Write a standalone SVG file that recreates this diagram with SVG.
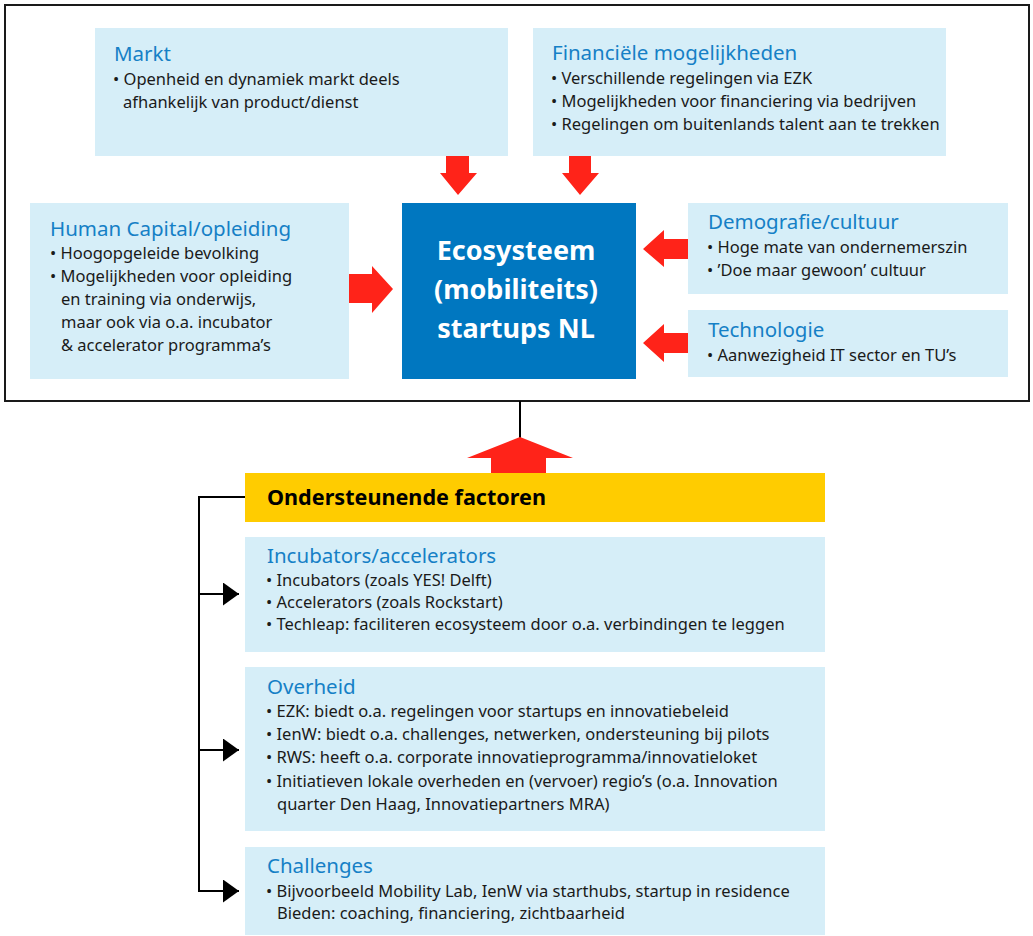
<svg xmlns="http://www.w3.org/2000/svg" width="1033" height="936" viewBox="0 0 1033 936">
  <style>
    .box { fill: #D6EEF8; }
    .core { fill: #0077C0; }
    .bar { fill: #FFCC00; }
    .title { font-family: "Noto Sans", "Open Sans", sans-serif; font-size: 20.5px; fill: #1580C6; }
    .body { font-family: "Noto Sans", "Open Sans", sans-serif; font-size: 16.5px; fill: #1A1A1A; }
    .core-text { font-family: "Noto Sans", "Open Sans", sans-serif; font-size: 27px; font-weight: bold; fill: #FFFFFF; text-anchor: middle; }
    .bar-text { font-family: "Noto Sans", "Open Sans", sans-serif; font-size: 21.6px; font-weight: bold; fill: #000000; }
    .frame { fill: none; stroke: #1A1A1A; stroke-width: 2; }
    .big-arrow { fill: #FF2319; }
    .link { fill: none; stroke: #000000; stroke-width: 2; }
  </style>
  <defs>
    <marker id="head" viewBox="0 0 16 23" refX="16" refY="11.5" markerWidth="16" markerHeight="23" markerUnits="userSpaceOnUse" orient="auto">
      <path d="M0,0 L16,11.5 L0,23 Z" fill="#000000"/>
    </marker>
  </defs>

  <rect width="1033" height="936" fill="#FFFFFF"/>

  <!-- outer frame around the ecosystem -->
  <rect class="frame" x="5" y="5" width="1024" height="396"/>

  <g id="markt">
    <rect class="box" x="95" y="28" width="413" height="128"/>
    <text class="title" x="114" y="61">Markt</text>
    <text class="body" x="113" y="85">• Openheid en dynamiek markt deels</text>
    <text class="body" x="123" y="108">afhankelijk van product/dienst</text>
  </g>

  <g id="financieel">
    <rect class="box" x="533" y="28" width="413" height="128"/>
    <text class="title" x="552" y="60">Financiële mogelijkheden</text>
    <text class="body" x="551" y="84">• Verschillende regelingen via EZK</text>
    <text class="body" x="551" y="107">• Mogelijkheden voor financiering via bedrijven</text>
    <text class="body" x="551" y="130">• Regelingen om buitenlands talent aan te trekken</text>
  </g>

  <g id="human-capital">
    <rect class="box" x="30" y="203" width="319" height="176"/>
    <text class="title" x="50" y="236">Human Capital/opleiding</text>
    <text class="body" x="50" y="259">• Hoogopgeleide bevolking</text>
    <text class="body" x="50" y="282">• Mogelijkheden voor opleiding</text>
    <text class="body" x="61" y="305">en training via onderwijs,</text>
    <text class="body" x="61" y="328">maar ook via o.a. incubator</text>
    <text class="body" x="61" y="351">&amp; accelerator programma’s</text>
  </g>

  <g id="ecosysteem">
    <rect class="core" x="402" y="203" width="234" height="176"/>
    <text class="core-text" x="516" y="260">Ecosysteem</text>
    <text class="core-text" x="516" y="299">(mobiliteits)</text>
    <text class="core-text" x="516" y="338">startups NL</text>
  </g>

  <g id="demografie">
    <rect class="box" x="688" y="203" width="320" height="91"/>
    <text class="title" x="708" y="229">Demografie/cultuur</text>
    <text class="body" x="707" y="253">• Hoge mate van ondernemerszin</text>
    <text class="body" x="707" y="276">• ’Doe maar gewoon’ cultuur</text>
  </g>

  <g id="technologie">
    <rect class="box" x="688" y="310" width="320" height="67"/>
    <text class="title" x="708" y="337">Technologie</text>
    <text class="body" x="707" y="361">• Aanwezigheid IT sector en TU’s</text>
  </g>

  <g id="ondersteunend">
    <rect class="bar" x="245" y="473" width="580" height="49"/>
    <text class="bar-text" x="267" y="505">Ondersteunende factoren</text>
  </g>

  <g id="incubators">
    <rect class="box" x="245" y="537" width="580" height="115"/>
    <text class="title" x="267" y="563">Incubators/accelerators</text>
    <text class="body" x="266" y="586">• Incubators (zoals YES! Delft)</text>
    <text class="body" x="266" y="608">• Accelerators (zoals Rockstart)</text>
    <text class="body" x="266" y="630">• Techleap: faciliteren ecosysteem door o.a. verbindingen te leggen</text>
  </g>

  <g id="overheid">
    <rect class="box" x="245" y="667" width="580" height="164"/>
    <text class="title" x="267" y="694">Overheid</text>
    <text class="body" x="266" y="717">• EZK: biedt o.a. regelingen voor startups en innovatiebeleid</text>
    <text class="body" x="266" y="740">• IenW: biedt o.a. challenges, netwerken, ondersteuning bij pilots</text>
    <text class="body" x="266" y="763">• RWS: heeft o.a. corporate innovatieprogramma/innovatieloket</text>
    <text class="body" x="266" y="787">• Initiatieven lokale overheden en (vervoer) regio’s (o.a. Innovation</text>
    <text class="body" x="277" y="810">quarter Den Haag, Innovatiepartners MRA)</text>
  </g>

  <g id="challenges">
    <rect class="box" x="245" y="847" width="580" height="88"/>
    <text class="title" x="267" y="873">Challenges</text>
    <text class="body" x="266" y="897">• Bijvoorbeeld Mobility Lab, IenW via starthubs, startup in residence</text>
    <text class="body" x="277" y="919">Bieden: coaching, financiering, zichtbaarheid</text>
  </g>

  <g id="connectors">
    <!-- block arrows into the ecosystem -->
    <polygon class="big-arrow" points="446,156 469,156 469,173 477,173 458,195 440,173 446,173"/>
    <polygon class="big-arrow" points="569,156 591,156 591,173 599,173 580,195 562,173 569,173"/>
    <polygon class="big-arrow" points="349,274 372,274 372,266 393,289 372,313 372,303 349,303"/>
    <polygon class="big-arrow" points="688,239 664,239 664,230 643,249 664,267 664,259 688,259"/>
    <polygon class="big-arrow" points="688,333 664,333 664,324 643,343 664,362 664,353 688,353"/>
    <!-- supporting factors feed the ecosystem -->
    <line class="link" x1="520" y1="401" x2="520" y2="438"/>
    <polygon class="big-arrow" points="491,473 546,473 546,458 573,458 520,437 467,458 491,458"/>
    <!-- bracket from the yellow bar to each supporting box -->
    <polyline class="link" points="245,497 199,497 199,892"/>
    <line class="link" x1="198" y1="594" x2="239" y2="594" marker-end="url(#head)"/>
    <line class="link" x1="198" y1="750" x2="239" y2="750" marker-end="url(#head)"/>
    <line class="link" x1="198" y1="891" x2="239" y2="891" marker-end="url(#head)"/>
  </g>
</svg>
